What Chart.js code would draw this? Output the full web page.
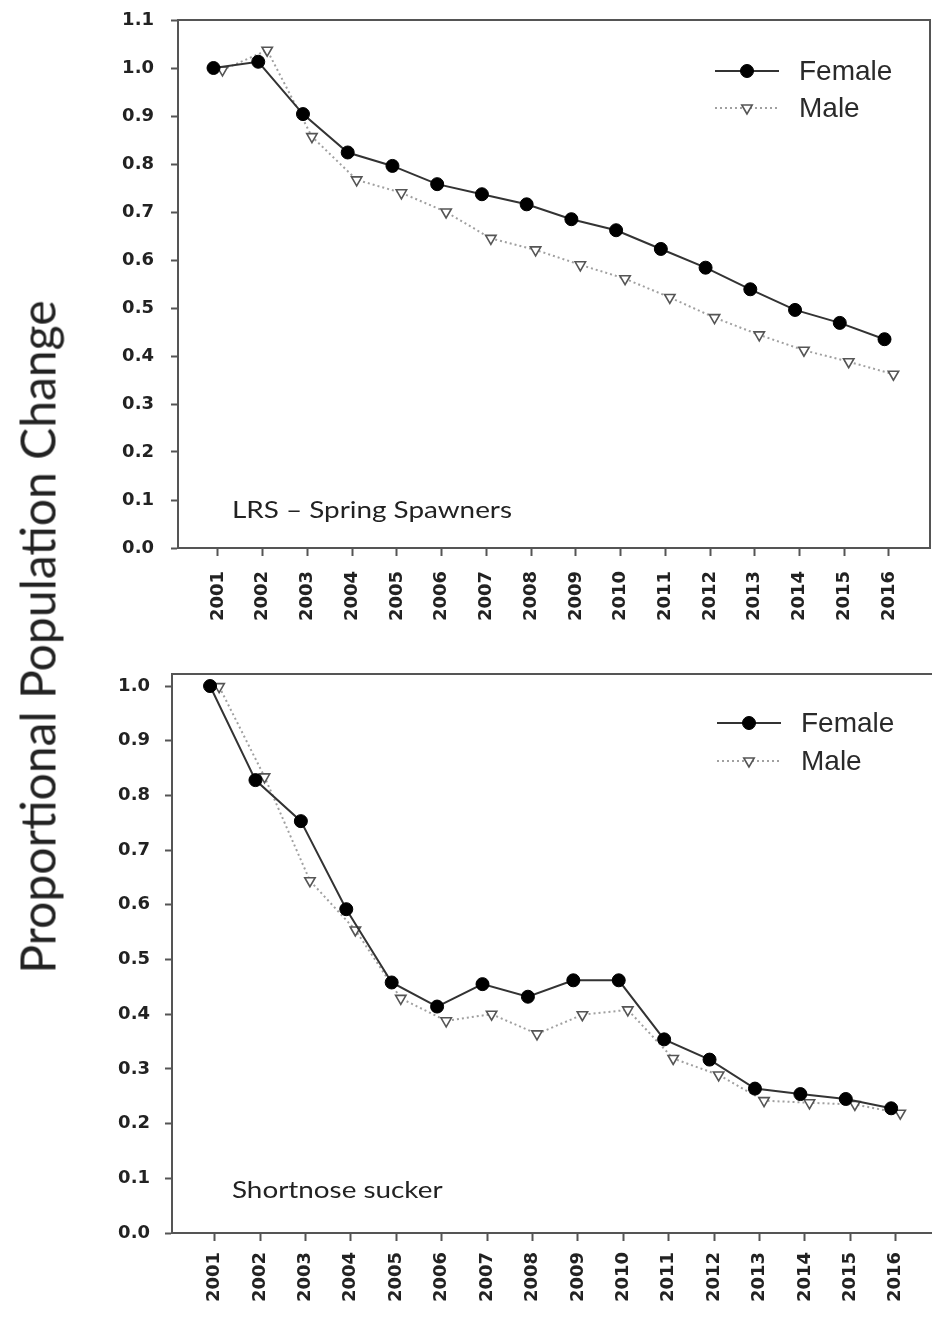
<!DOCTYPE html>
<html lang="en">
<head>
<meta charset="UTF-8">
<title>Proportional Population Change</title>
<script src="https://cdn.jsdelivr.net/npm/chart.js"></script>
<style>
    html, body { margin: 0; padding: 0; background: #fff; overflow: hidden; }
    body { width: 932px; height: 1320px; position: relative; }
    #grafico-lrs { position: absolute; left: 0; top: 0; }
    #grafico-sns { position: absolute; left: 0; top: 650px; }
    .titulo-y {
        position: absolute; left: 37px; top: 637px;
        transform: translate(-50%, -50%) rotate(-90deg);
        white-space: nowrap; font-family: Lato, sans-serif; font-size: 48px; color: #222;
    }
</style>
</head>
<body>
    <canvas id="grafico-lrs" width="932" height="650"></canvas>
    <canvas id="grafico-sns" width="940" height="670"></canvas>
    <div class="titulo-y">Proportional Population Change</div>

<script>
    // dados
    const years = [2001, 2002, 2003, 2004, 2005, 2006, 2007, 2008, 2009, 2010, 2011, 2012, 2013, 2014, 2015, 2016];

    // LRS - Spring Spawners
    const lrsFemale = [1.0, 1.013, 0.904, 0.824, 0.796, 0.758, 0.737, 0.716, 0.685, 0.662, 0.623, 0.584, 0.539, 0.496, 0.469, 0.435];
    const lrsMale = [0.996, 1.037, 0.857, 0.767, 0.740, 0.700, 0.645, 0.621, 0.590, 0.561, 0.522, 0.480, 0.444, 0.412, 0.388, 0.362];

    // Shortnose sucker
    const snsFemale = [1.0, 0.828, 0.753, 0.592, 0.458, 0.414, 0.455, 0.432, 0.462, 0.462, 0.354, 0.317, 0.264, 0.254, 0.245, 0.228];
    const snsMale = [0.999, 0.834, 0.644, 0.554, 0.429, 0.388, 0.400, 0.364, 0.399, 0.408, 0.319, 0.289, 0.242, 0.238, 0.235, 0.219];

    const yTicksTop = [0.0, 0.1, 0.2, 0.3, 0.4, 0.5, 0.6, 0.7, 0.8, 0.9, 1.0, 1.1];
    const yTicksBottom = [0.0, 0.1, 0.2, 0.3, 0.4, 0.5, 0.6, 0.7, 0.8, 0.9, 1.0];

    const seriesNames = ['Female', 'Male'];

    const axisColor = '#555';
    const tickFont = { family: 'DejaVu Sans, sans-serif', size: 18, weight: 'bold' };

    // moldura + legenda + nota dentro do gráfico
    const extrasPlugin = {
        id: 'extras',
        afterDraw(chart, args, opts) {
            const ctx = chart.ctx;
            const a = chart.chartArea;
            ctx.save();
            ctx.strokeStyle = axisColor;
            ctx.lineWidth = 2;
            ctx.strokeRect(a.left, a.top, a.right - a.left, a.bottom - a.top);

            // legenda
            chart.data.datasets.forEach((ds, i) => {
                const y = opts.legendY + i * opts.legendGap;
                ctx.save();
                ctx.strokeStyle = ds.borderColor;
                ctx.lineWidth = ds.borderWidth;
                ctx.setLineDash(ds.borderDash || []);
                ctx.beginPath();
                ctx.moveTo(opts.legendX, y);
                ctx.lineTo(opts.legendX + 64, y);
                ctx.stroke();
                ctx.restore();
                ctx.save();
                ctx.fillStyle = ds.pointBackgroundColor;
                ctx.strokeStyle = ds.pointBorderColor;
                ctx.lineWidth = ds.pointBorderWidth;
                Chart.helpers.drawPoint(ctx, {
                    pointStyle: ds.pointStyle,
                    rotation: ds.pointRotation || 0,
                    radius: ds.pointRadius,
                    borderWidth: ds.pointBorderWidth
                }, opts.legendX + 32, y);
                ctx.restore();
                ctx.fillStyle = '#2a2a2a';
                ctx.font = '28px "Liberation Sans", Arial, sans-serif';
                ctx.textBaseline = 'middle';
                ctx.fillText(ds.label, opts.legendX + 84, y + 1);
            });

            // nota (um pouco esticada na horizontal como no original)
            ctx.fillStyle = '#222';
            ctx.font = '24px Lato, sans-serif';
            ctx.textBaseline = 'middle';
            ctx.translate(opts.noteX, opts.noteY);
            ctx.scale(1.16, 1);
            ctx.fillText(opts.note, 0, 0);
            ctx.restore();
        }
    };

    function montarDatasets(female, male) {
        return [{
            label: seriesNames[0],
            data: years.map((yr, i) => ({ x: yr - 0.1, y: female[i] })),
            borderColor: '#333',
            borderWidth: 2,
            pointStyle: 'circle',
            pointRadius: 6.5,
            pointBackgroundColor: '#000',
            pointBorderColor: '#000',
            pointBorderWidth: 1,
            clip: false
        }, {
            label: seriesNames[1],
            data: years.map((yr, i) => ({ x: yr + 0.1, y: male[i] })),
            borderColor: '#a0a0a0',
            borderWidth: 2,
            borderDash: [2, 3],
            pointStyle: 'triangle',
            pointRotation: 180,
            pointRadius: 6,
            pointBackgroundColor: '#fff',
            pointBorderColor: '#555',
            pointBorderWidth: 1.6,
            clip: false
        }];
    }

    function plotarGrafico(elementId, female, male, cfg) {
        const ctx = document.getElementById(elementId).getContext('2d');
        return new Chart(ctx, {
            type: 'line',
            data: { datasets: montarDatasets(female, male) },
            plugins: [extrasPlugin],
            options: {
                responsive: false,
                animation: false,
                devicePixelRatio: 1,
                layout: { autoPadding: false, padding: { top: cfg.padTop, right: cfg.padRight, left: 0, bottom: 0 } },
                scales: {
                    x: {
                        type: 'linear',
                        min: cfg.xMin,
                        max: cfg.xMax,
                        afterBuildTicks: s => { s.ticks = years.map(v => ({ value: v })); },
                        afterFit: s => { s.height = cfg.xHeight; s.paddingLeft = 0; s.paddingRight = 0; },
                        ticks: {
                            callback: v => String(v),
                            minRotation: 90,
                            maxRotation: 90,
                            padding: cfg.xPad,
                            color: '#222',
                            font: tickFont
                        },
                        grid: { drawOnChartArea: false, tickLength: 8, tickColor: axisColor, tickWidth: 2 },
                        border: { color: axisColor, width: 2 }
                    },
                    y: {
                        type: 'linear',
                        min: 0,
                        max: cfg.yMax,
                        afterBuildTicks: s => { s.ticks = cfg.yTicks.map(v => ({ value: v })); },
                        afterFit: s => { s.width = cfg.yWidth; s.paddingTop = 0; s.paddingBottom = 0; },
                        ticks: {
                            callback: v => v.toFixed(1),
                            padding: cfg.yPad,
                            color: '#222',
                            font: tickFont
                        },
                        grid: { drawOnChartArea: false, tickLength: 7, tickColor: axisColor, tickWidth: 2 },
                        border: { color: axisColor, width: 2 }
                    }
                },
                plugins: {
                    legend: { display: false },
                    tooltip: { enabled: false },
                    extras: cfg.extras
                }
            }
        });
    }

    plotarGrafico('grafico-lrs', lrsFemale, lrsMale, {
        padTop: 20, padRight: 2, xHeight: 102, yWidth: 178, xPad: 15, yPad: 17,
        xMin: 2000.106, xMax: 2016.917, yMax: 1.1, yTicks: yTicksTop,
        extras: { legendX: 715, legendY: 71, legendGap: 37, note: 'LRS \u2013 Spring Spawners', noteX: 232, noteY: 510 }
    });

    plotarGrafico('grafico-sns', snsFemale, snsMale, {
        padTop: 24, padRight: 2.5, xHeight: 87, yWidth: 172, xPad: 11, yPad: 15,
        xMin: 2000.062, xMax: 2016.92, yMax: 1.022, yTicks: yTicksBottom,
        extras: { legendX: 717, legendY: 73, legendGap: 38, note: 'Shortnose sucker', noteX: 232, noteY: 540 }
    });
</script>
</body>
</html>
